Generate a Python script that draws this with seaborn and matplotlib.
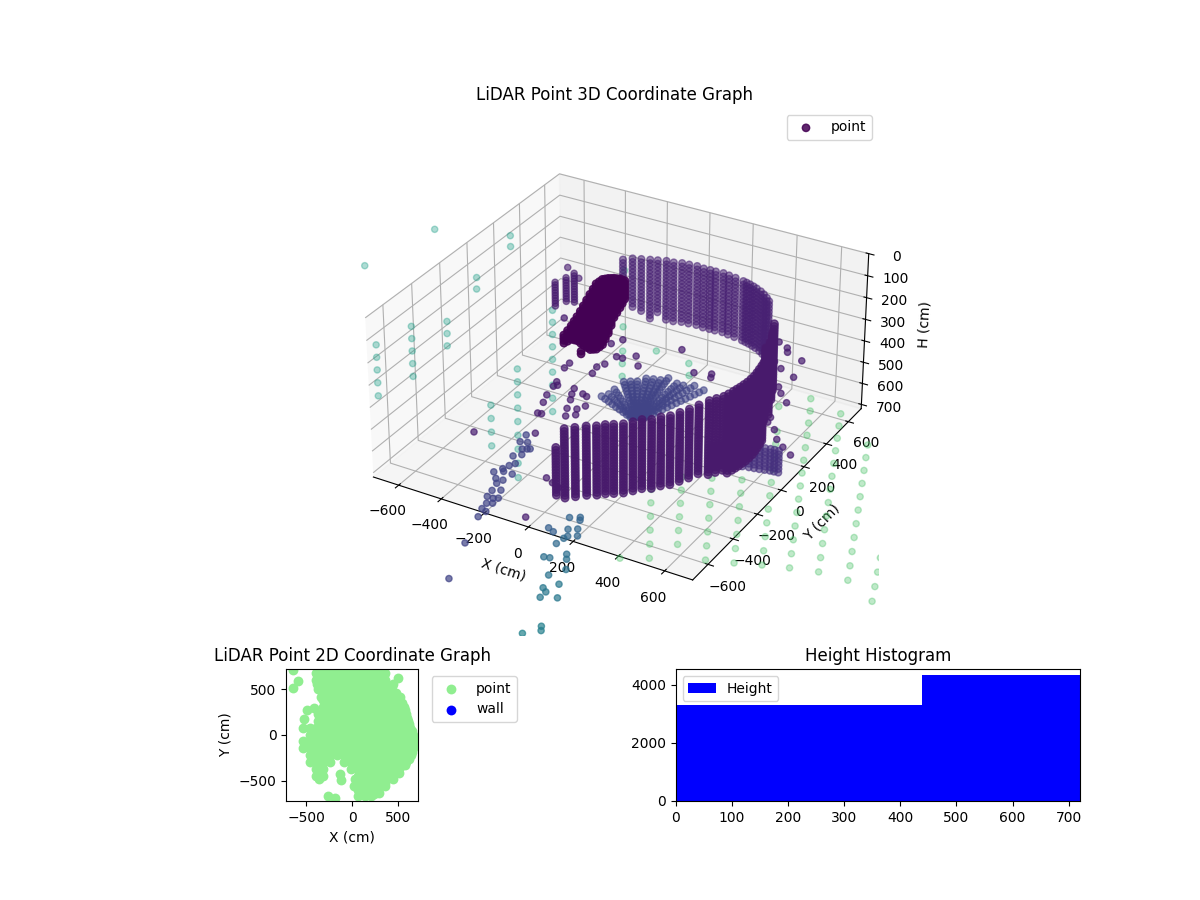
import numpy as np
import matplotlib
matplotlib.use("Agg")
import matplotlib.pyplot as plt
import seaborn as sns

# heights of the scan lines (cm)
wall_rows = [100, 112, 124, 136, 148, 160, 172, 184, 196, 208, 220, 232, 244, 256, 268, 280,
             292, 304, 316, 328, 340, 352, 364, 376, 388, 400, 412, 424, 436, 448]
back_rows = [100, 116, 132, 148, 164, 180, 196, 212, 228, 244, 260, 276, 292, 308, 324, 340, 356, 372, 388, 404]

back_x = [-198, -169, -136, -102, -73, -40, -8, 24, 55, 89, 122, 151, 176, 209, 238, 270, 310, 328, 346, 366, 385, 410, 432, 455, 476]
back_y = [350, 378, 391, 404, 415, 428, 431, 443, 446, 451, 446, 448, 448, 451, 445, 440, 431, 426, 420, 412, 403, 390, 374, 355, 334]
back_n = [7, 15, 16, 18, 16, 18, 18, 18, 18, 18, 18, 18, 18, 18, 18, 18, 18, 18, 18, 18, 18, 18, 18, 20, 20]

front_x = [316, 275, 304, 335, 367, 390, 416, 445, 468, 489, 519, 540, 566, 585, 604, 620, 638, 654, 670, 677, 683, 687, 691,
           694, 697, 698, 698, 695, 691, 687, 682, 637, 631, 606, 578]
front_y = [-1026, -899, -872, -843, -823, -799, -782, -761, -731, -701, -682, -650, -625, -587, -549, -505, -458, -431, -404, -379, -353, -333, -313,
           -290, -267, -241, -215, -187, -160, -132, -105, -3, 45, 115, 182]
front_n = [18, 26, 26, 26, 26, 26, 26, 26, 26, 26, 26, 26, 26, 26, 26, 26, 28, 28, 28, 30, 30, 30, 30,
           30, 30, 30, 30, 30, 30, 30, 30, 28, 28, 26, 26]

sweep_x = [648, 664, 681, 700, 720, 743, 767, 787, 807, 827, 847, 863, 880]
sweep_y = [-452, -433, -414, -401, -388, -381, -375, -371, -367, -362, -357, -355, -353]
sweep_n = [7, 7, 7, 7, 7, 7, 7, 7, 7, 7, 7, 7, 7]
sweep_rows = [300, 316, 332, 348, 364, 380, 396]

cluster_x = [-85, -91, -98, -107, -116, -127, -139, -152, -165, -176, -188, -186, -185, -177, -169, -159, -150, -138, -126, -114, -102, 37, 36]
cluster_y = [-303, -265, -226, -189, -152, -108, -64, -17, 30, 74, 118, 140, 162, 171, 181, 187, 194, 197, 201, 199, 198, -378, -319]
cluster_n = [4, 5, 6, 8, 10, 13, 16, 19, 22, 24, 26, 26, 26, 24, 22, 19, 16, 14, 12, 10, 8, 2, 2]

stub_x = [-336, -318, -309, -357, -271]
stub_y = [47, 102, 150, 180, 123]
stub_n = [10, 10, 12, 1, 1]

# ground spokes around the sensor
fan_centre_x = 151
fan_centre_y = -150
fan_h = 500
fan_angle = [72, 80, 86, 91, 99, 103, 108, 113, 119, 124, 129, 139, 147, 155]
fan_len = [374, 371, 361, 355, 376, 359, 350, 342, 338, 323, 339, 283, 260, 240]
fan_radii = [40, 65, 90, 115, 140, 165, 190, 215, 240, 265, 290, 315, 340, 365]

# far wall returns outside the box, one line per scan ray
far_x = [-320, -269, -218, -167, -116, -65, -14, 37, 88,
         -195, -143, -91, -39, 13, 65, 117, 169, 221,
         -138, -85, -32, 21,
         -635, -581, -527,
         -731, -678,
         -808, -755,
         -1114, -1184,
         -735, -679, -623, -567, -511,
         -772, -715, -658, -601, -544,
         -686, -627, -568]
far_y = [-2, -86, -170, -254, -338, -422, -506, -590, -674,
         -469, -552, -635, -718, -801, -884, -967, -1050, -1133,
         -750, -832, -914, -996,
         -289, -371, -453,
         80, -3,
         463, 380,
         353, -63,
         -393, -474, -555, -636, -717,
         -585, -665, -745, -825, -905,
         -938, -1019, -1100]
far_h = 200

green_x = [489, 527, 565, 603, 641, 679, 717, 755, 793, 831, 869, 907, 945,
           609, 646, 683, 720, 757, 794, 831, 868, 905, 942, 979, 1016, 1053,
           814, 850, 886, 922, 958, 994, 1030, 1066, 1102, 1138, 1174,
           1215, 1248, 1281, 1314,
           445, 485, 525, 565, 605, 645, 685, 725, 765, 805, 845,
           494, 536, 578, 620, 662, 704, 746,
           384, 427, 470, 513, 556, 599, 642,
           277, 321, 365, 409, 453, 497,
           215, 262, 309, 356, 403, 450,
           352, 446, 359]
green_y = [719, 629, 539, 449, 359, 269, 179, 89, -1, -91, -181, -271, -361,
           762, 671, 580, 489, 398, 307, 216, 125, 34, -57, -148, -239, -330,
           595, 503, 411, 319, 227, 135, 43, -49, -141, -233, -325,
           -126, -219, -312, -405,
           504, 414, 324, 234, 144, 54, -36, -126, -216, -306, -396,
           103, 13, -77, -167, -257, -347, -437,
           54, -34, -122, -210, -298, -386, -474,
           2, -85, -172, -259, -346, -433,
           -141, -227, -313, -399, -485, -571,
           -627, 810, 686]
green_h = 800

mid_green_x = [-426, -187, -88, -39, 11, 29, 191, 238]
mid_green_y = [759, 332, 157, 69, -19, 226, 203, 120]
mid_green_h = 400

loose_x = [-434, -359, -222, -224, -114, -98, -87, -103, -192, -175, -185, -173, -155, -105, -91, -73, -51, -26, -54, -31,
           2, -15, 3, -132, -116, -270, -61, 143, 180, 217, 217, 376, 424, 475, 492, 573, 481, 529, 604, 587,
           618, 670, 113, -21, -60, 25, -134, -159, 244, 310, 321, 667, 722, 763, 809, 860, 601, 674]
loose_y = [275, 297, -76, -33, -5, 31, 106, -58, -185, -207, -222, -292, -348, -196, -238, -278, -341, -393, -215, -225,
           -290, -326, -366, -428, -425, -671, -561, -814, -832, -851, -1082, 568, 539, 512, 481, 448, 388, 351, 315, 218,
           178, 125, 287, 149, 107, 84, 238, 187, 149, 175, 148, -5, -79, -138, -177, -213, 55, -42]
loose_h = 400

strip_x = [-304, -287, -277, -341, -347, -312, -283, -308, -283, -270, -293, -311, -279, -239, -278, -247, -256, -215, -244, -237,
           -210, -193, -213, -193, -208, -184, -190, -135, -57]
strip_y = [-274, -264, -257, -230, -174, -220, -311, -337, -406, -381, -438, -476, -454, -454, -513, -510, -542, -576, -595, -641,
           -641, -630, -684, -672, -725, -735, -781, -960, -1192]
strip_h = 700

steel_x = [-155, -124, -121, -84, -74, -82, -49, -57, -24, -69, -63, -63, -39, 6, 24, 59, 20, 47, 88, 71, 71, 131, 176, 190, 138, 159, 161]
steel_y = [-323, -338, -216, -193, -212, -293, -272, -337, -316, -405, -358, -511, -505, -450, -481, -544, -611, -697, -645, -716, -758, -728, -921, -946, -997, -1043, -1068]
steel_h = 1000
steel_shade = [0.3, 0.3, 0.32, 0.32, 0.32, 0.33, 0.33, 0.33, 0.33, 0.34, 0.34, 0.36, 0.36, 0.36, 0.37, 0.38, 0.38, 0.4, 0.4, 0.4, 0.4, 0.4, 0.43, 0.43, 0.45, 0.45, 0.45]

# top-down view, points fill this grid
blob_grid_x = [-690, -615, -540, -465, -390, -315, -240, -165, -90, -15, 60, 135, 210, 285, 360, 435, 510, 585, 660]
blob_grid_y = [680, 605, 530, 455, 380, 305, 230, 155, 80, 5, -70, -145, -220, -295, -370, -445, -520, -595, -670]
blob_mask = [
    "....###########....",
    "....###########....",
    ".....###########...",
    ".....###########...",
    ".....############..",
    ".....############..",
    ".....#############.",
    ".....#############.",
    "..################.",
    "...################",
    "..#################",
    "..#################",
    "...###############.",
    "...####.##########.",
    "....##...########..",
    "....##....######...",
    "..........#####....",
    "..........####.....",
    "...........##......",
]
blob_extra_x = [500, -650, -595, -490, -530, 480, 560, 610, 630, 640, -130, -120, -265, -190, 60, -650, -358,
                350, 440, 520, 545, 580, 600, 625, 650, 665, 665, 650, 620, 575, 510, 440, 360, 290,
                -385, -370, -340, -370, -370, -420, 30, 20, 100, 240]
blob_extra_y = [620, 510, 585, 275, 175, 455, 305, 155, 80, -220, -420, -490, -670, -685, -670, 710, -480,
                650, 560, 420, 350, 270, 190, 120, 40, -30, -110, -180, -260, -330, -410, -480, -560, -630,
                560, 500, 420, 155, 230, 290, -480, -560, -640, -640]

# histogram
height_edges = [0, 438, 720]
height_counts = [3310, 4345]


def expand_columns(xs, ys, counts, rows):
    out_x, out_y, out_h = [], [], []
    for x, y, n in zip(xs, ys, counts):
        for h in rows[:n]:
            out_x.append(x)
            out_y.append(y)
            out_h.append(h)
    return out_x, out_y, out_h


def scatter_group(ax, xs, ys, hs, shade, alpha, order, size=20, **kwargs):
    hs = np.full(len(xs), hs) if np.isscalar(hs) else hs
    colors = np.full(len(xs), shade) if np.isscalar(shade) else shade
    ax.scatter(xs, ys, hs, c=colors, cmap="viridis", vmin=0, vmax=1, alpha=alpha, s=size,
               depthshade=False, zorder=order, **kwargs)


fig = plt.figure(figsize=(12, 9), dpi=100)
gs = fig.add_gridspec(2, 2, height_ratios=[4, 1], hspace=0.1, wspace=0.3)

ax3d = fig.add_subplot(gs[0, :], projection="3d")
ax3d.set_box_aspect((2, 2, 1))
ax3d.computed_zorder = False

scatter_group(ax3d, far_x, far_y, far_h, 0.56, 0.36, 1)
scatter_group(ax3d, mid_green_x, mid_green_y, mid_green_h, 0.65, 0.36, 1)
scatter_group(ax3d, green_x, green_y, green_h, 0.72, 0.36, 1)

bx, by, bh = expand_columns(back_x, back_y, back_n, back_rows)
scatter_group(ax3d, bx, by, bh, 0.09, 0.55, 2, size=24)

spoke_x, spoke_y = [], []
for angle, length in zip(fan_angle, fan_len):
    for r in fan_radii:
        if r <= length:
            spoke_x.append(fan_centre_x + r * np.cos(np.radians(angle)))
            spoke_y.append(fan_centre_y + r * np.sin(np.radians(angle)))
scatter_group(ax3d, spoke_x, spoke_y, fan_h, 0.2, 0.6, 3, size=24)

scatter_group(ax3d, loose_x, loose_y, loose_h, 0.08, 0.7, 4)
scatter_group(ax3d, strip_x, strip_y, strip_h, 0.2, 0.7, 4)
scatter_group(ax3d, steel_x, steel_y, steel_h, np.array(steel_shade), 0.7, 4)
sx, sy, sh = expand_columns(stub_x, stub_y, stub_n, wall_rows)
scatter_group(ax3d, sx, sy, sh, 0.08, 0.6, 4)

cx, cy, ch = expand_columns(cluster_x, cluster_y, cluster_n, wall_rows)
scatter_group(ax3d, cx, cy, ch, 0.0, 0.85, 5, size=28, label="point")

wx, wy, wh = expand_columns(sweep_x, sweep_y, sweep_n, sweep_rows)
scatter_group(ax3d, wx, wy, wh, 0.14, 0.6, 6, size=24)
tx, ty, th = expand_columns(front_x, front_y, front_n, wall_rows)
scatter_group(ax3d, tx, ty, th, 0.07, 0.75, 7, size=30)

ax3d.set_xlim(-720, 720)
ax3d.set_ylim(-720, 720)
ax3d.set_zlim(720, 0)
ax3d.set_xlabel("X (cm)")
ax3d.set_ylabel("Y (cm)")
ax3d.set_zlabel("H (cm)")
ax3d.set_title("LiDAR Point 3D Coordinate Graph")
ax3d.legend()

ax2d = fig.add_subplot(gs[1, 0])
top_x, top_y = [], []
for y, row in zip(blob_grid_y, blob_mask):
    for x, cell in zip(blob_grid_x, row):
        if cell == "#":
            top_x.append(x)
            top_y.append(y)
top_x += blob_extra_x
top_y += blob_extra_y
sns.scatterplot(x=top_x, y=top_y, color="lightgreen", s=50, linewidth=0, label="point", ax=ax2d)
ax2d.scatter([], [], color="blue", s=50, linewidth=0, label="wall")
ax2d.set_xlim(-720, 720)
ax2d.set_ylim(-720, 720)
ax2d.set_aspect("equal")
ax2d.set_xlabel("X (cm)")
ax2d.set_ylabel("Y (cm)")
ax2d.set_title("LiDAR Point 2D Coordinate Graph")
ax2d.legend(bbox_to_anchor=(1.05, 1), loc="upper left")

ax_hist = fig.add_subplot(gs[1, 1])
sns.histplot(x=height_edges[:-1], weights=height_counts, bins=height_edges, color="blue",
             alpha=1, linewidth=0, label="Height", ax=ax_hist)
ax_hist.set_xlim(0, 720)
ax_hist.set_ylim(0, 4550)
ax_hist.set_xlabel("")
ax_hist.set_ylabel("")
ax_hist.set_title("Height Histogram")
ax_hist.legend(loc="upper left")

fig.savefig("out.png", dpi=100)
